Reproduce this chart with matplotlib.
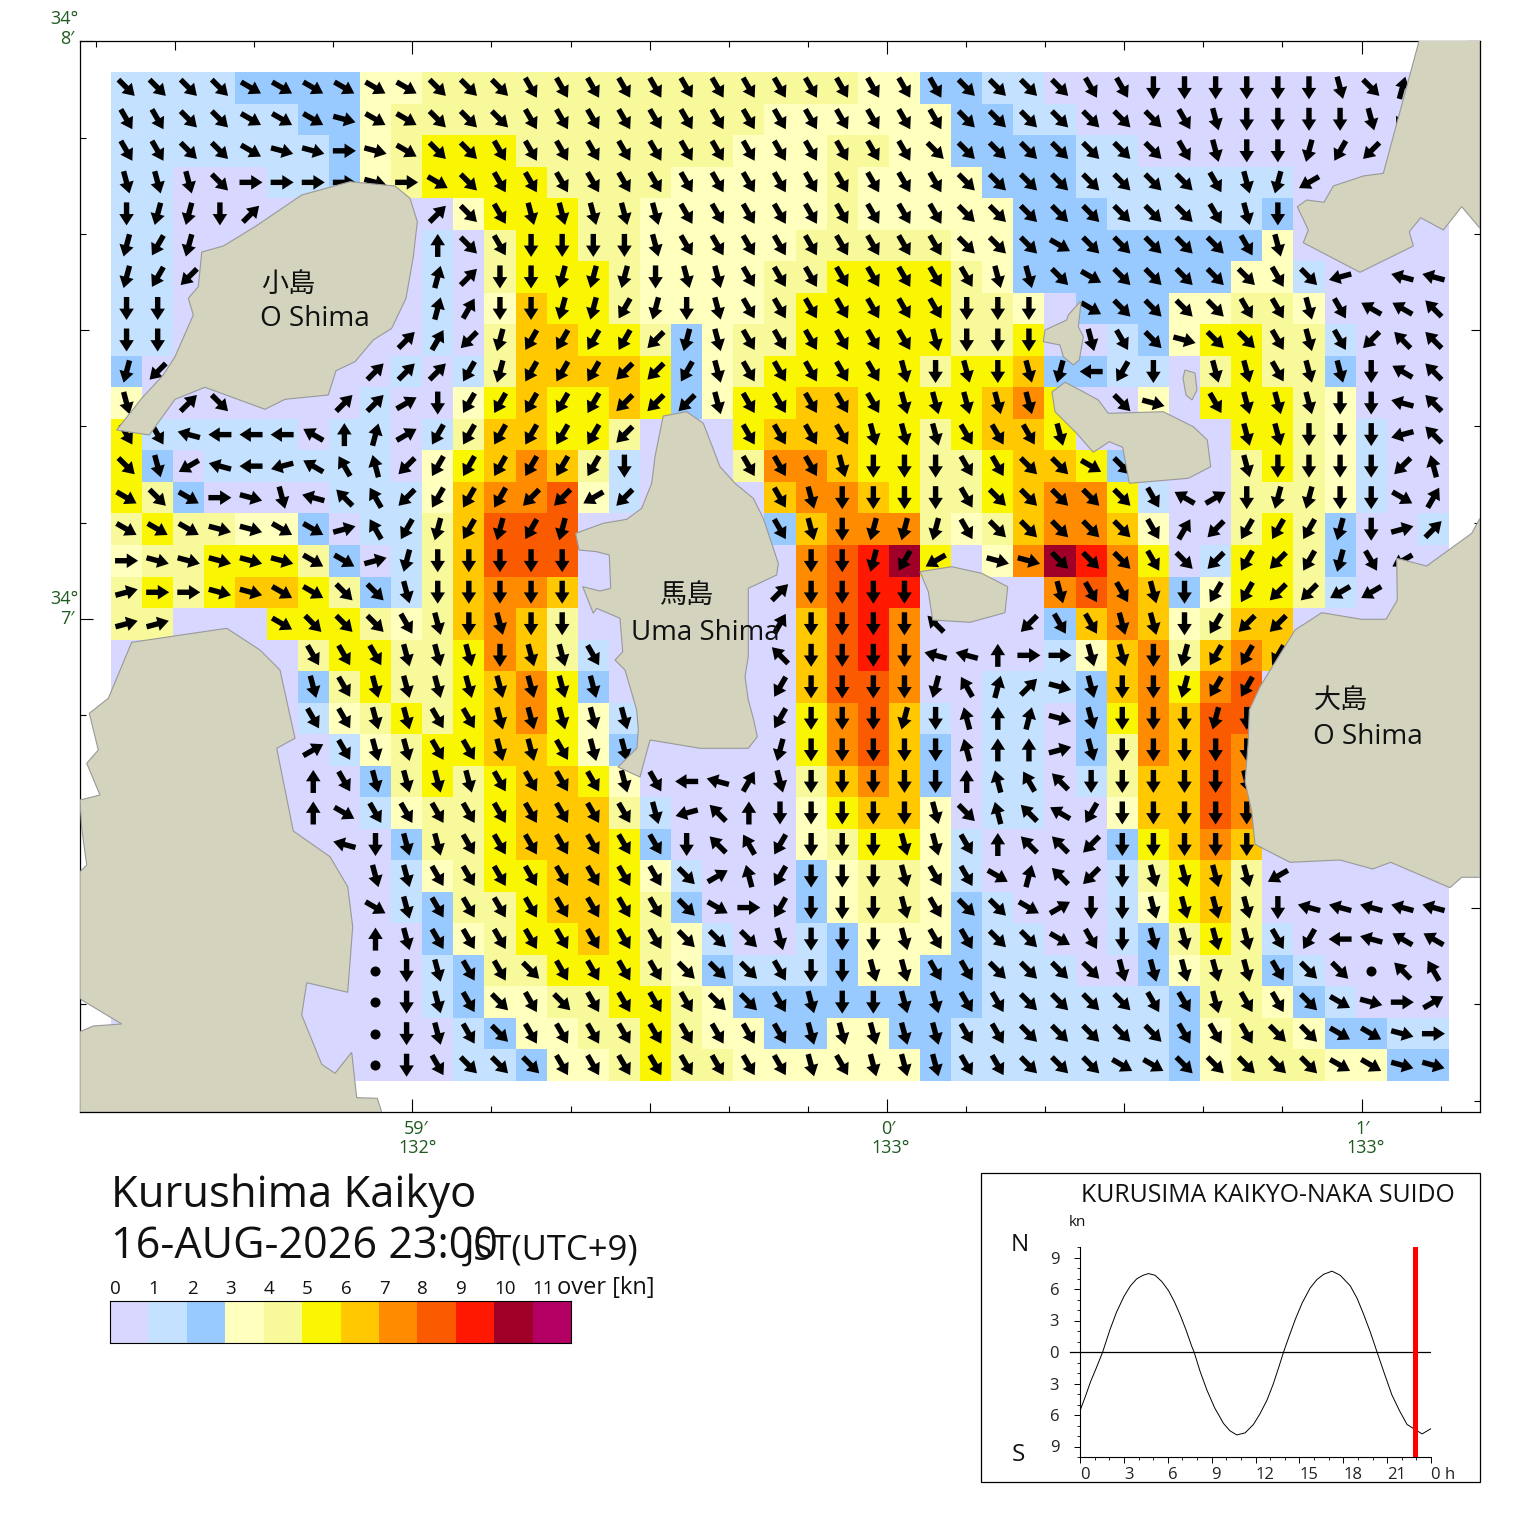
#!/usr/bin/env python3
"""
Tidal current map of Kurushima Kaikyo with speed legend and daily tide curve.
"""
import numpy as np
import matplotlib
matplotlib.use("Agg")
import matplotlib.pyplot as plt
from matplotlib.colors import ListedColormap
from matplotlib.patches import Polygon, Rectangle

plt.rcParams["font.family"] = ["Open Sans", "Noto Sans CJK JP", "DejaVu Sans"]

W, H = 1520, 1533

# speed class per cell, one char per column (a = 10 kn), land cells are 0
speed_rows = [
    "1111 2222 33 44444444444444 33 22 11 0000000000000",
    "111111 22 3 444444444444 333333 22 11 000000000000",
    "1111111 2 3 4 555 4444444 333 44 33 2222 11 0000000000",
    "11 000 11 2 3 4 5555 4444 33333 4 3333 222 1111111 00000",
    "11 000000000 3 555 44 333333 4 33333 222 11111 2 00000",
    "11 00000000 1 0 4 55 44 33333 44444 33 22222222 3 00000",
    "11 00000000 1 0 4 555 4 3333 44 5555 4 3 2222222 33 1 0000",
    "11 00000000 1 0 3 6 55 4 3333 4 55555 44 3 0 222 33 44 3 0000",
    "11 00000000 1 0 4 66 55 4 2 3 44 55555 44 5 0 0 1 2 3 55 44 1 000",
    "2 00000000 1 0 1 4 6666 5 2 3 4 55555 4 55 6 22 11 0 4 5 44 2 000",
    "3 0000000 1 00 3 5 6 55 6 5 2 3 55 66 5555 6 7 5 00 3 0 555 4 3 000",
    "5 1 1111 0 11 0 1 4 66 55 4 000 5 666 55 4 5 66 5 00000 55 4 3 1 00",
    "5 2 0 111111 0 3 5 6 7 6 4 1 000 4 77 6 55 44 5 66 5 2 000 4 5 4 3 1 00",
    "5 4 2 0000 111 3 6 77 8 3 1 0000 6 77 6 5 44 5 6 77 5 1 00 444 3 1 00",
    "4 5 44 33 2 0 11 4 6 888 000000 2 6 777 4 3 4 6 77 6 3 00 4 5 4 2 00 1",
    "3 44 555 4 2 0 1 4 6 888 0000000 7 8 9 a 5 0 3 7 a 9 7 5 0 1 55 4 2 000",
    "4 5 4 5 66 5 4 2 1 4 6 77 6 0000000 7 8 99 0000 7 8 7 6 2 3 55 4 1 000",
    "44 000 555 4 3 4 6 7 6 4 0000000 6 8 9 7 0000 2 6 7 6 3 4 66 00000",
    "000000 4 55 44 5 7 6 4 1 000000 6 8 9 7 0000 1 3 6 7 4 6 7 6 00000",
    "000000 2 4 5 44 5 6 7 5 2 000000 6 88 7 00 111 2 6 7 5 7 8 000000",
    "000000 1 3 4 5 4 5 6 7 5 3 1 00000 5 7 8 6 1 0 11 0 2 5 7 6 88 000000",
    "0000000 1 3 4 55 66 5 3 2 00000 5 7 8 6 2 0 11 0 2 4 7 6 8 7 000000",
    "00000000 2 4 5 4 5 66 5 3 00000 4 6 7 6 2 0 11 0 1 4 66 8 7 000000",
    "00000000 1 3 44 5 666 4 1 0000 3 5 66 3 0 11 00 3 66 8 7 000000",
    "000000000 2 44 5 666 5 2 0000 3 4 55 3 1 0000 2 5 6 7 6 000000",
    "000000000 1 3 4 55 66 5 3 1 000 2 3 44 3 1 0000 1 4 5 6 4 000000",
    "000000000 1 2 44 5 66 5 4 2 000 2 3 44 3 2 1 000 1 3 5 6 4 000000",
    "0000000000 2 3 4 55 6 5 4 3 1 00 1 2 333 2 11 00 1 2 4 5 4 1 00000",
    "0000000000 1 2 44 555 4 3 2 111 2 33 22 111 00 2 3 44 2 1 0000",
    "0000000000 1 2 33 44 55 4 3 22222222 111111 2 44 3 2 1 000",
    "00000000000 1 2 33 44 5 4 33 22 33 22 1111111 2 3 44 3 22 11",
    "00000000000 11 2 33 4 5 44 333333 2 1111111 2 3 444 33 22",
]

# flow direction per cell: a = north, then 15 degrees clockwise per letter,
# "." no arrow, "*" slack water dot
dir_rows = [
    "jjjjiiiiiijjjkkkkkkkkkkkkkkjjjjkkmmmmmmljb.",
    "kkjjiiihiijjjk" "kkkkkkkkkkkk" "k" "jjjjjjj" "klmmmmlo.",
    "kkjjihhghijjkk" "kkkkkkkkkkkk" "jjjjjjjj" "klmmnop..",
    "llljgggghgijkk" "kkkkkkkkkkkkk" "jjjjjjjj" "klnq" "....",
    "mnnmd.....djkl" "llll" "kkkkkkkkk" "jjjjjjjj" "klm" ".....",
    "non.......ajkm" "mmm" "l" "kkkkkkkkk" "jjj" "i" "jjjjj" "kl" ".....",
    "nop.......bdmm" "nnn" "m" "ll" "kkkkkkkk" "ll" "j" "i" "jjjjj" "kj" "r.tt",
    "mm........bcmm" "nnon" "ml" "kkkkkkk" "mmm" "." "i" "jjjj" "kk" "lk" "uuv",
    "mm......." "dcpnoooopnl" "kkkkkk" "l" "mmm" "." "lkjhjjklk" "pvv",
    "np......" "dddonoooppol" "kkkkk" "lmlmlnsom" "." "llkllmuv",
    "l.dj...dde" "mooooopppl" "kkkkk" "lllll" ".." "jh." "klllmmtv",
    "kktsssuabe" "oooooop" "..." "kkkk" "lll" "kkk" "l" "....." "llmmmrv",
    "jlqtsruwxp" "oooooom" "..." "kkkl" "mmm" "kk" "jjij" "..." "lmmmmpx",
    "ijighltvwp" "oooppqp" "...." "kl" "mmmm" "kjjjjjk" "uemnnmmic",
    "iiihhiifwo" "nonon" "......" "klmnnn" "kjjjjjk" "cpooonmfd",
    "ghhhhhiifn" "mmmmm" "......." "mmnoq" "." "hh" "jjjkj" "popon" "kq.",
    "fgghhiijjl" "mmmmm" "......" "d" "mmmm" "...." "lkklmoo" "ppqq" "..",
    "ff...ijjjk" "lmlmm" "......" "c" "mmmm" "v.." "pkkllmopp" ".....",
    "......kkkl" "llmllk" "....." "v" "mmmm" "ttagg" "llmnooo" ".....",
    "......lkll" "llllll" "....." "o" "mmmm" "nwbdh" "lmmnoo" "......",
    "......kkll" "kkllll" "l" "...." "o" "mmmn" "mxabh" "lmmmnm" "......",
    "......ekll" "kkllkll" "...." "n" "mmmm" "mxaaf" "lmmmmm" "......",
    "......akll" "llkkkklk" "stcl" "mmmm" "maxwv" "mmmmml" "......",
    "......aikk" "kkkkkkk" "l" "rvam" "mmmm" "ljxvu" "o" "mmmmm" "......",
    ".......tml" "lkkkkkkk" "mvwo" "mmmllkavvp" "mmmmm" "......",
    "........ll" "kkkkkkkk" "jexo" "mmmlkkibvp" "mllllq" ".....",
    "........il" "kkkkkkkk" "jigo" "mmmlkjjiemmllllmttttt",
    "........al" "kkkkkkkk" "jjjl" "mmmlkkjjikmllllkostuu",
    "........*m" "lkkjkkkk" "jjjk" "mmllkkjjjjlllllkjj*vw",
    "........*m" "lkjkjkkk" "kjjk" "lmmllkkjjjjkklkkjihge",
    "........*m" "lkjkkkkk" "kkkk" "lllll" "kk" "jjjjj" "kkkjjiihg",
    "........*m" "kjjjkkkk" "kkkk" "lklllkkjjjiijjjjjiihh",
]

speed_colors = ["#D7D7FF", "#C4E2FF", "#99CAFF", "#FFFFBE", "#F8F99A", "#FAF500",
                "#FFC800", "#FF8C00", "#FA5A00", "#FF1900", "#A00028", "#B40064"]
legend_labels = [str(i) for i in range(12)]

# coastlines, in map units
oshima_nw = [(201.7,252),(223.3,246),(255,226.7),(301.7,195),(350,181.7),(395,186),(410,198.3),
             (417.3,221.7),(413.3,256.7),(406,298.3),(391.7,328.3),(373.3,340),(355,361.7),
             (336,370.7),(328.3,395),(285,399.3),(265,409.3),(205,387.3),(175,399.3),
             (149.3,435),(116.7,430),(141.7,398.3),(163.3,375),(175,356.7),(193.3,315),
             (188.3,298.3),(198.3,286.7),(200,270)]
uma_shima = [(663.3,416),(686.7,411.7),(703.3,423.3),(711.7,445),(720,466.7),(735,483.3),
             (753.3,498.3),(763.3,518.3),(778.3,563.3),(776.7,575),(748.3,588.3),(748.3,656.7),
             (745,676.7),(748.3,700),(753.3,718.3),(757.3,736.7),(748.3,748.3),(700,748.3),
             (650,740),(640,777),(618,767),(637,748),(638.3,730),(636.7,710),(625,670),(615,660),
             (622.7,651.7),(620,618.3),(596.7,608.3),(593.3,613.3),(582.7,586.7),(600,591),
             (610.7,588.3),(609.3,555),(596.7,551.7),(579,550),(575.7,533.3),(603.3,523.3),
             (626.7,519.3),(641.7,508.3),(651.7,483.3),(655,456.7),(661.7,423.3)]
mid_islet = [(920,571.7),(951.7,566.7),(981.7,573.3),(1007.7,586.7),(1005,612.7),(970,622.3),
             (932.7,620),(928.3,591.7)]
east_isle = [(1052,392),(1055,411.7),(1076.7,433.3),(1093.3,452.3),(1109.3,441.7),(1122.7,447.3),
             (1129.3,483.3),(1188.3,478.3),(1210.7,466.7),(1207.3,440),(1193.3,426.7),(1163.3,411.7),
             (1108.3,413.3),(1098.3,400),(1080,390),(1065,382.3)]
north_islet = [(1080,301.7),(1068.3,315),(1066.7,320),(1045,330),(1043.3,341.7),(1060,345),
               (1063.3,356.7),(1073.3,365),(1079.3,360),(1083.3,336.7),(1078.3,326.7),(1081,303)]
tiny_islet = [(1185,370),(1195,373),(1197,390),(1192,400),(1186,395),(1183,378)]
ne_land = [(1419.3,40),(1383.3,173.3),(1363.3,176),(1333.3,186),(1324,202.3),(1306.7,200),
           (1297.3,206.7),(1308.3,230),(1303.3,242.7),(1360,272.3),(1413.3,246),(1409.3,231.7),
           (1420.7,217.7),(1443.3,230),(1461.7,206.7),(1480,228.3),(1480,40)]
oshima_e = [(1480,518.3),(1471.7,533.3),(1426.7,566),(1396.7,558.3),(1397.3,600),(1386,619.3),
            (1361.7,619.3),(1321.7,612.7),(1295,630),(1260,686.7),(1249.3,710),(1248,745),
            (1245,781.7),(1251.7,811.7),(1255,844.3),(1290,862.3),(1340,860),(1372.7,869),
            (1390.7,862.3),(1450,887.7),(1461.7,877.3),(1480,877.3)]
sw_land = [(131.7,642.3),(226.7,628.3),(260,650),(280,670),(295,738.3),(276.7,748.3),(293.3,831),
           (330,856.7),(347.7,886.7),(352.7,926.7),(347.7,992.3),(306.7,982.7),(301.7,1015),
           (321.7,1064.3),(335,1073.3),(351.7,1052.3),(356.7,1097.7),(377.3,1098.3),(381.7,1112),
           (80,1112),(80,1031.7),(93.3,1026),(121.7,1024),(81.7,1000),(80,998),(80,871.7),
           (86.7,865),(81.7,828.3),(80,800),(100,795),(86.7,763.3),(98.3,750),(89.3,713.3),
           (108.3,698.3)]
land_polys = [oshima_nw, uma_shima, mid_islet, east_isle, north_islet, tiny_islet,
              ne_land, oshima_e, sw_land]

# tide curve, hour of day and knots (north positive)
tide_hours = [0, 0.35, 0.73, 1.15, 1.55, 2.05, 2.5, 3.01, 3.45, 3.88, 4.3, 4.68, 5.13, 5.6,
              6.05, 6.45, 6.84, 7.25, 7.64, 7.8, 8.2, 8.67, 9.2, 9.81, 10.25, 10.72, 11.29,
              11.86, 12.3, 12.78, 13.2, 13.58, 13.92, 14.3, 14.72, 15.2, 15.74, 16.2, 16.66,
              17.23, 17.8, 18.48, 18.95, 19.39, 19.85, 20.31, 20.8, 21.33, 21.85, 22.36,
              22.93, 23.39, 24]
tide_knots = [-5.6, -4.3, -2.8, -1.4, 0, 2.13, 3.8, 5.31, 6.3, 6.97, 7.3, 7.47, 7.31, 6.7,
              5.85, 4.8, 3.56, 2.1, 0.54, 0, -1.8, -3.6, -5.3, -6.8, -7.5, -7.9, -7.7,
              -6.9, -5.9, -4.6, -3.1, -1.5, 0, 1.5, 3.1, 4.7, 6.1, 6.9, 7.4,
              7.7, 7.3, 6.3, 5.1, 3.6, 1.9, 0, -2.0, -4.1, -5.6, -6.9,
              -7.4, -7.8, -7.3]
now_hour = 22.93


def px_axes(x0, y0, x1, y1):
    return fig.add_axes([x0 / W, 1 - y1 / H, (x1 - x0) / W, (y1 - y0) / H])


def put(x, y, s, size, **kw):
    kw.setdefault("va", "center")
    kw.setdefault("color", "#111111")
    fig.text(x / W, 1 - y / H, s, fontsize=size, **kw)


fig = plt.figure(figsize=(W / 100, H / 100), dpi=100)

# ── Current map ───────────────────────────────────────────────────────────────
speed = np.array([[int(ch, 16) for ch in row.replace(" ", "")] for row in speed_rows])
dirs = [list(row) for row in dir_rows]
n_row, n_col = speed.shape

cmap = ListedColormap(speed_colors)
ax = px_axes(80, 41, 1480, 1112)
x_edges = np.linspace(111, 1449, n_col + 1)
y_edges = np.linspace(72, 1081, n_row + 1)
ax.pcolormesh(x_edges, y_edges, speed, cmap=cmap, vmin=-0.5, vmax=11.5, zorder=1)
ax.set_xlim(80, 1480)
ax.set_ylim(1112, 41)

xc = (x_edges[:-1] + x_edges[1:]) / 2
yc = (y_edges[:-1] + y_edges[1:]) / 2
ax_x, ax_y, ax_u, ax_v, dot_x, dot_y = [], [], [], [], [], []
for r in range(n_row):
    for c in range(n_col):
        ch = dirs[r][c]
        if ch == "*":
            dot_x.append(xc[c])
            dot_y.append(yc[r])
        elif ch != ".":
            theta = np.deg2rad((ord(ch) - ord("a")) * 15)
            ax_x.append(xc[c])
            ax_y.append(yc[r])
            ax_u.append(23 * np.sin(theta))
            ax_v.append(23 * np.cos(theta))
ax.quiver(ax_x, ax_y, ax_u, ax_v, angles="uv", units="dots", scale_units="dots", scale=1,
          width=5.4, headwidth=2.7, headlength=2.1, headaxislength=2.1, pivot="mid",
          color="black", zorder=2)
ax.scatter(dot_x, dot_y, s=52, color="black", linewidths=0, zorder=2)

for poly in land_polys:
    ax.add_patch(Polygon(poly, closed=True, facecolor="#D3D3BE", edgecolor="#999999",
                         linewidth=0.8, zorder=3))

# graticule: long tick each minute, mid each half minute, short each 10 seconds
x_ticks = [887 + k * 79.1 for k in range(-10, 8)]
y_ticks = [619 + k * 96.3 for k in range(-6, 6)]
ax.set_xticks(x_ticks)
ax.set_yticks(y_ticks)
ax.tick_params(direction="in", top=True, right=True, labelbottom=False, labelleft=False,
               width=0.8, color="black")
for ticks, base in ((ax.xaxis.get_major_ticks(), -10), (ax.yaxis.get_major_ticks(), -6)):
    for i, t in enumerate(ticks):
        k = base + i
        size = 9.5 if k % 6 == 0 else (6.5 if k % 3 == 0 else 4)
        t.tick1line.set_markersize(size)
        t.tick2line.set_markersize(size)
for s in ax.spines.values():
    s.set_linewidth(0.9)

for x, y, s, fs in [(288, 285, "小島", 19.5), (315, 319, "O Shima", 20.1),
                    (686, 596, "馬島", 19.5), (705, 633, "Uma Shima", 20),
                    (1341, 701, "大島", 19.5), (1368, 737, "O Shima", 20.1)]:
    put(x, y, s, fs, ha="center")

# lat / lon labels
GREEN = "#1F5A1F"
for x, y, s in [(64, 19, "34°"), (67, 39, "8′"), (64, 599, "34°"), (67, 619, "7′"),
                (416, 1129, "59′"), (418, 1148, "132°"), (888, 1129, "0′"), (891, 1148, "133°"),
                (1363, 1129, "1′"), (1366, 1148, "133°")]:
    put(x, y, s, 13, ha="center", color=GREEN)

# ── Title block ───────────────────────────────────────────────────────────────
put(111, 1196, "Kurushima Kaikyo", 31.4, ha="left")
put(111, 1247, "16-AUG-2026 23:00", 31.1, ha="left")
put(465, 1251, "JST(UTC+9)", 24.9, ha="left")

# ── Speed legend ──────────────────────────────────────────────────────────────
ax_leg = px_axes(110, 1301, 571, 1343)
ax_leg.pcolormesh(np.arange(13), [0, 1], np.arange(12).reshape(1, -1), cmap=cmap,
                  vmin=-0.5, vmax=11.5)
ax_leg.set_xlim(0, 12)
ax_leg.set_yticks([])
ax_leg.set_xticks(range(12))
ax_leg.set_xticklabels(legend_labels, ha="left", fontsize=13.5, color="#111111")
ax_leg.tick_params(axis="x", top=True, bottom=False, labeltop=True, labelbottom=False,
                   length=0, pad=2)
put(557, 1288, "over [kn]", 17, ha="left")

# ── Tide panel ────────────────────────────────────────────────────────────────
fig.add_artist(Rectangle((981 / W, 1 - 1482 / H), 499 / W, 309 / H, transform=fig.transFigure,
                         facecolor="white", edgecolor="black", linewidth=0.9, zorder=-1))
put(1268, 1196, "KURUSIMA KAIKYO-NAKA SUIDO", 17.9, ha="center")
put(1069, 1222, "kn", 11, ha="left")
put(1020, 1245, "N", 17.5, ha="center")
put(1018, 1455, "S", 17.5, ha="center")

ax_t = px_axes(1080, 1247, 1431, 1457)
ax_t.patch.set_alpha(0)
ax_t.plot(tide_hours, tide_knots, color="black", linewidth=0.7)
ax_t.axhline(0, color="black", linewidth=0.9)
ax_t.plot([-0.65, 0], [0, 0], color="black", linewidth=0.9, clip_on=False)
ax_t.axvline(now_hour, color="#FF0000", linewidth=3.6, zorder=5)
ax_t.set_xlim(0, 24)
ax_t.set_ylim(-10, 10)
ax_t.spines["top"].set_visible(False)
ax_t.spines["right"].set_visible(False)
ax_t.set_xticks(range(0, 25, 3))
ax_t.set_xticks(range(0, 25), minor=True)
ax_t.set_xticklabels(["0", "3", "6", "9", "12", "15", "18", "21", "0 h"], ha="left",
                     fontsize=12, color="#222222")
ax_t.set_yticks(range(-9, 10, 3))
ax_t.set_yticks(range(-10, 11), minor=True)
ax_t.set_yticklabels(["9", "6", "3", "0", "3", "6", "9"], fontsize=12, color="#222222")
ax_t.tick_params(axis="both", which="major", length=4, width=0.7)
ax_t.tick_params(axis="both", which="minor", length=2, width=0.6)
ax_t.tick_params(axis="y", which="major", pad=11)
ax_t.tick_params(axis="x", which="major", pad=3)

fig.savefig("out.png", dpi=100)
print("Saved: out.png")
